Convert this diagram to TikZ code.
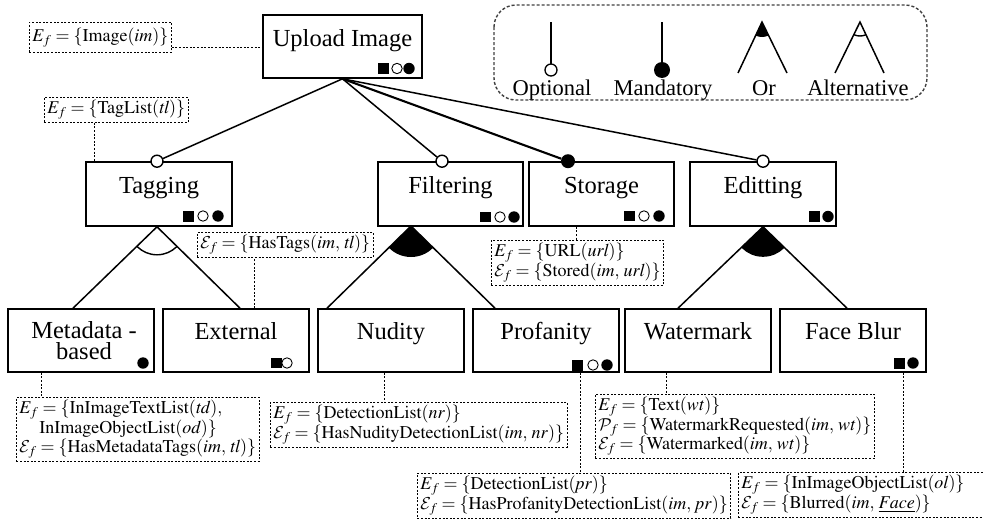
\documentclass[tikz,border=0pt]{standalone}
\usepackage{mathptmx}
\usepackage{fontspec}
\setmainfont{Liberation Serif}
\DeclareMathAlphabet{\mathcal}{OMS}{cmsy}{m}{n}
\newcommand\fmsq[2]{\fill (#1,#2) rectangle ++(11,10.5);}
\newcommand\fmoc[2]{\draw[line width=0.9pt,fill=white] (#1,#2) circle (5.2);}
\newcommand\fmfc[2]{\fill (#1,#2) circle (5.7);}
\newcommand\orfill[4]{\begin{scope}\clip (#1) -- (#2) -- (#3) -- cycle; \fill (#1) circle (#4);\end{scope}}
\newcommand\oralt[4]{\begin{scope}\clip (#1) -- (#2) -- (#3) -- cycle; \draw[line width=1.4pt] (#1) circle (#4);\end{scope}}
\newcommand\cm{,\,}
\tikzset{
  fbox/.style={draw, line width=1.6pt, inner sep=0pt, minimum height=63pt, minimum width=146pt},
  flabel/.style={font=\fontsize{24.5}{21.5}\selectfont, anchor=base, inner sep=0pt, align=center},
  conn/.style={line width=1.5pt},
  mconn/.style={line width=2.1pt},
  optc/.style={circle, draw, fill=white, line width=1.4pt, minimum size=12pt, inner sep=0pt},
  mandc/.style={circle, fill=black, minimum size=14pt, inner sep=0pt},
  annot/.style={draw, line width=0.8pt, dash pattern=on 2pt off 1.6pt, align=left, anchor=north west, font=\fontsize{18}{19.5}\selectfont, inner xsep=3pt, inner ysep=3pt},
  annline/.style={line width=0.8pt, dash pattern=on 2pt off 1.6pt},
  leglabel/.style={font=\fontsize{22.5}{24}\selectfont, anchor=base, inner sep=0pt},
}
\begin{document}
\begin{tikzpicture}[x=1pt,y=-1pt]
\useasboundingbox (0,0) rectangle (983,522);

% ---------- legend ----------
\draw[line width=1.4pt, black!75, dash pattern=on 3pt off 2pt, rounded corners=22pt] (494,5) rectangle (927,100);
\draw[conn] (551,22) -- (551,64);
\draw[line width=1.3pt, fill=white] (551,70) circle (6);
\draw[conn] (662,22) -- (662,64);
\fill (662,70) circle (8);
\coordinate (lgOrA) at (762,22);
\coordinate (lgOrL) at (738,73);
\coordinate (lgOrR) at (787,73);
\draw[conn] (lgOrL) -- (lgOrA) -- (lgOrR);
\orfill{lgOrA}{lgOrL}{lgOrR}{15}
\coordinate (lgAlA) at (860,22);
\coordinate (lgAlL) at (835,73);
\coordinate (lgAlR) at (884,73);
\draw[conn] (lgAlL) -- (lgAlA) -- (lgAlR);
\oralt{lgAlA}{lgAlL}{lgAlR}{14}
\node[leglabel] (lgOpt) at (552,95) {Optional};
\node[leglabel] (lgMan) at (663,95) {Mandatory};
\node[leglabel] (lgOr) at (764,95) {Or};
\node[leglabel] (lgAlt) at (858,95) {Alternative};

% ---------- feature boxes ----------
\node[fbox, minimum width=159pt] (up) at (342.5,46.5) {};
\node[fbox, minimum height=64pt] (tag) at (159,194) {};
\node[fbox, minimum height=64pt, minimum width=145pt] (filt) at (450.5,194) {};
\node[fbox, minimum height=64pt, minimum width=145pt] (stor) at (601.5,194) {};
\node[fbox, minimum height=64pt] (edit) at (763,194) {};
\node[fbox] (meta) at (81,340.5) {};
\node[fbox] (ext) at (236,340.5) {};
\node[fbox] (nud) at (391,340.5) {};
\node[fbox] (prof) at (546,340.5) {};
\node[fbox] (wat) at (698,340.5) {};
\node[fbox] (face) at (853,340.5) {};

\node[flabel] (upL) at ([yshift=-32pt]up.north) {Upload Image};
\node[flabel] (tagL) at ([yshift=-32pt]tag.north) {Tagging};
\node[flabel] (filtL) at ([yshift=-32pt]filt.north) {Filtering};
\node[flabel] (storL) at ([yshift=-32pt]stor.north) {Storage};
\node[flabel] (editL) at ([yshift=-32pt]edit.north) {Editting};
\node[flabel, anchor=north] (metaL) at ([xshift=3pt,yshift=-13pt]meta.north) {Metadata -\\based};
\node[flabel] (extL) at ([yshift=-31pt]ext.north) {External};
\node[flabel] (nudL) at ([yshift=-31pt]nud.north) {Nudity};
\node[flabel] (profL) at ([yshift=-31pt]prof.north) {Profanity};
\node[flabel] (watL) at ([yshift=-31pt]wat.north) {Watermark};
\node[flabel] (faceL) at ([yshift=-31pt]face.north) {Face Blur};

% ---------- small symbols ----------
\fmsq{378}{63}\fmoc{397}{68.5}\fmfc{409}{68.5}
\fmsq{183}{211}\fmoc{203}{216}\fmfc{218}{216}
\fmsq{480}{211.5}\fmoc{500}{217}\fmfc{514}{217}
\fmsq{624}{210.5}\fmoc{644}{216}\fmfc{659}{216}
\fmsq{809}{211}\fmfc{828}{216.5}
\fmfc{143}{363}
\fmsq{271}{357.5}\fmoc{287}{363}
\fmsq{572}{360}\fmoc{593}{365}\fmfc{607}{365}
\fmsq{894}{358}\fmfc{913}{363}

% ---------- top-level connectors ----------
\node[optc] (tagC) at ([xshift=-2pt]tag.north) {};
\node[optc] (filtC) at ([xshift=-8.5pt]filt.north) {};
\node[mandc] (storC) at ([xshift=-33.5pt]stor.north) {};
\node[optc] (editC) at (edit.north) {};
\draw[conn] (up.south) -- (tagC);
\draw[conn] (up.south) -- (filtC);
\draw[mconn] (up.south) -- (storC);
\draw[conn] (up.south) -- (editC);

% ---------- groups ----------
\coordinate (tagA) at ([xshift=-2pt]tag.south);
\coordinate (metaT) at ([xshift=-8pt]meta.north);
\coordinate (extT) at ([xshift=4pt]ext.north);
\draw[conn] (metaT) -- (tagA) -- (extT);
\oralt{tagA}{metaT}{extT}{28}

\coordinate (filtA) at (411,226);
\coordinate (nudT) at ([xshift=-64pt]nud.north);
\coordinate (profT) at ([xshift=-51pt]prof.north);
\draw[conn] (nudT) -- (filtA) -- (profT);
\orfill{filtA}{nudT}{profT}{31}

\coordinate (editA) at (edit.south);
\coordinate (watT) at ([xshift=-20pt]wat.north);
\coordinate (faceT) at ([xshift=-6pt]face.north);
\draw[conn] (watT) -- (editA) -- (faceT);
\orfill{editA}{watT}{faceT}{30}

% ---------- annotations ----------
\node[annot, minimum height=30pt] (annIm) at (29,22) {$E_f = \{\mathrm{Image}(\mathit{im})\}$};
\draw[annline] ([yshift=-10pt]annIm.east) -- ([yshift=-10pt]annIm.east -| up.west);

\node[annot] (annTag) at (44,97) {$E_f = \{\mathrm{TagList}(\mathit{tl})\}$};
\draw[annline] ([xshift=50pt]annTag.south west) -- ([xshift=50pt]annTag.south west |- tag.north);

\node[annot] (annHas) at (197,232) {$\mathcal{E}_f = \{\mathrm{HasTags}(\mathit{im}\cm \mathit{tl})\}$};
\draw[annline] ([xshift=18pt]ext.north) -- ([xshift=18pt]ext.north |- annHas.south);

\node[annot] (annStor) at (491,240) {$E_f = \{\mathrm{URL}(\mathit{url})\}$\\$\mathcal{E}_f = \{\mathrm{Stored}(\mathit{im}\cm \mathit{url})\}$};
\draw[annline] ([xshift=-25.5pt]stor.south) -- ([xshift=-25.5pt]stor.south |- annStor.north);

\node[annot] (annMeta) at (16,397) {$E_f = \{\mathrm{InImageTextList}(\mathit{td}),$\\\hspace*{20pt}$\mathrm{InImageObjectList}(\mathit{od})\}$\\$\mathcal{E}_f = \{\mathrm{HasMetadataTags}(\mathit{im}\cm \mathit{tl})\}$};
\draw[annline] ([xshift=-40pt]meta.south) -- ([xshift=-40pt]meta.south |- annMeta.north);

\node[annot] (annNud) at (270,402) {$E_f = \{\mathrm{DetectionList}(\mathit{nr})\}$\\$\mathcal{E}_f = \{\mathrm{HasNudityDetectionList}(\mathit{im}\cm \mathit{nr})\}$};
\draw[annline] ([xshift=-7pt]nud.south) -- ([xshift=-7pt]nud.south |- annNud.north);

\node[annot] (annWat) at (595,394) {$E_f = \{\mathrm{Text}(\mathit{wt})\}$\\$\mathcal{P}_f = \{\mathrm{WatermarkRequested}(\mathit{im}\cm \mathit{wt})\}$\\$\mathcal{E}_f = \{\mathrm{Watermarked}(\mathit{im}\cm \mathit{wt})\}$};
\draw[annline] ([xshift=-32pt]wat.south) -- ([xshift=-32pt]wat.south |- annWat.north);

\node[annot] (annProf) at (417,473) {$E_f = \{\mathrm{DetectionList}(\mathit{pr})\}$\\$\mathcal{E}_f = \{\mathrm{HasProfanityDetectionList}(\mathit{im}\cm \mathit{pr})\}$};
\draw[annline] ([xshift=34pt]prof.south) -- ([xshift=34pt]prof.south |- annProf.north);

\node[annot, text width=310pt] (annFace) at (738,472) {$E_f = \{\mathrm{InImageObjectList}(\mathit{ol})\}$\\$\mathcal{E}_f = \{\mathrm{Blurred}(\mathit{im}\cm \underline{Face})\}$};
\draw[annline] ([xshift=50pt]face.south) -- ([xshift=50pt]face.south |- annFace.north);
\end{tikzpicture}
\end{document}
